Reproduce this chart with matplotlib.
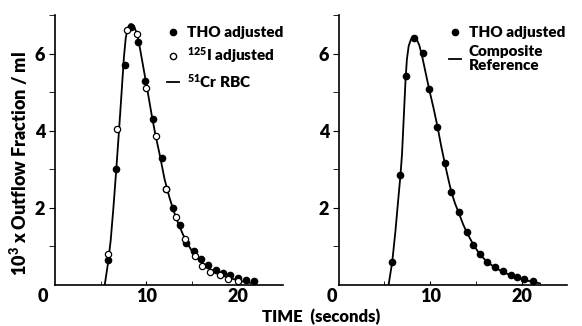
import numpy as np
import matplotlib
matplotlib.use("Agg")
import matplotlib.pyplot as plt
from matplotlib.lines import Line2D

plt.rcParams['font.family'] = ['Lato', 'DejaVu Sans']
plt.rcParams['font.weight'] = 'heavy'
plt.rcParams['axes.labelweight'] = 'heavy'
plt.rcParams['mathtext.fontset'] = 'custom'
plt.rcParams['mathtext.rm'] = 'Lato:heavy'
plt.rcParams['mathtext.default'] = 'rm'

# ---- left panel data ----
tho_l_x = [5.8, 6.7, 7.7, 8.35, 9.1, 9.9, 10.7, 11.7, 12.2, 12.9, 13.7, 14.4, 15.2,
           16.0, 16.8, 17.6, 18.4, 19.2, 20.0, 20.9, 21.8]
tho_l_y = [0.65, 3.0, 5.7, 6.7, 6.3, 5.3, 4.3, 3.3, 2.5, 2.0, 1.55, 1.1, 0.88,
           0.67, 0.52, 0.39, 0.32, 0.25, 0.19, 0.13, 0.10]
iod_x = [5.8, 6.8, 7.9, 9.0, 10.0, 11.1, 12.2, 13.3, 14.2, 15.3, 16.1, 17.0, 18.1, 19.0, 20.0]
iod_y = [0.8, 4.05, 6.6, 6.5, 5.1, 3.85, 2.5, 1.77, 1.2, 0.75, 0.5, 0.34, 0.25, 0.15, 0.1]
cr_x = [5.45, 5.8, 6.1, 6.4, 6.7, 7.0, 7.3, 7.55, 7.75, 7.95, 8.2, 8.45, 8.7, 9.0, 9.3,
        9.6, 9.9, 10.2, 10.6, 11.0, 11.5, 12.0, 12.5, 13.0, 13.5, 14.0, 14.5, 15.0, 15.5,
        16.0, 17.0, 18.0, 19.0, 20.0, 21.0, 22.0]
cr_y = [0.0, 0.55, 1.15, 2.0, 2.95, 3.95, 5.0, 5.9, 6.4, 6.65, 6.76, 6.76, 6.68, 6.5, 6.15,
        5.75, 5.35, 4.95, 4.4, 3.9, 3.35, 2.75, 2.3, 1.92, 1.6, 1.32, 1.08, 0.88, 0.72,
        0.6, 0.41, 0.28, 0.19, 0.12, 0.07, 0.03]

# ---- right panel data ----
tho_r_x = [5.83, 6.74, 7.36, 8.26, 9.17, 9.9, 10.7, 11.6, 12.3, 13.15, 13.99, 14.7, 15.4,
           16.2, 17.1, 18.0, 18.8, 19.5, 20.3, 21.2]
tho_r_y = [0.6, 2.84, 5.43, 6.4, 6.02, 5.08, 4.1, 3.16, 2.4, 1.88, 1.38, 1.04, 0.8,
           0.6, 0.46, 0.35, 0.26, 0.2, 0.15, 0.1]
ref_x = [5.45, 5.85, 6.2, 6.5, 6.75, 6.92, 7.1, 7.3, 7.45, 7.65, 7.9, 8.2, 8.5, 8.8, 9.1,
         9.5, 9.9, 10.35, 10.8, 11.2, 11.6, 12.0, 12.3, 12.7, 13.15, 13.6, 14.0, 14.7,
         15.4, 16.2, 17.1, 18.0, 19.0, 20.0, 21.0, 22.0]
ref_y = [0.0, 0.6, 1.4, 2.2, 2.85, 3.4, 4.3, 5.3, 5.85, 6.2, 6.37, 6.42, 6.38, 6.22, 5.95,
         5.5, 5.06, 4.6, 4.1, 3.6, 3.15, 2.72, 2.42, 2.12, 1.85, 1.57, 1.36, 1.05,
         0.8, 0.6, 0.45, 0.33, 0.23, 0.15, 0.09, 0.04]

fig = plt.figure(figsize=(5.82, 3.26), dpi=100)
ax1 = fig.add_axes([0.0945, 0.126, 0.392, 0.828])
ax2 = fig.add_axes([0.582, 0.126, 0.393, 0.828])

for ax in (ax1, ax2):
    ax.set_xlim(0, 25)
    ax.set_ylim(0, 7)
    ax.spines['top'].set_visible(False)
    ax.spines['right'].set_visible(False)
    ax.spines['left'].set_linewidth(1.2)
    ax.spines['bottom'].set_linewidth(1.2)
    ax.set_xticks([10, 20])
    ax.set_xticks([5, 15], minor=True)
    ax.set_yticks([2, 4, 6])
    ax.set_yticks([1, 3, 5, 7], minor=True)
    ax.tick_params(axis='x', which='both', direction='in', length=3, labelsize=13, pad=2)
    ax.tick_params(axis='y', which='both', direction='out', length=4, labelsize=13, pad=3)

ax1.text(-1.3, -0.3, '0', ha='center', va='center', fontsize=13)
ax2.text(-0.76, -0.3, '0', ha='center', va='center', fontsize=13)

ax1.plot(cr_x, cr_y, color='black', lw=1.3, solid_joinstyle='round')
ax1.plot(tho_l_x, tho_l_y, 'o', color='black', ms=4.5)
ax1.plot(iod_x, iod_y, 'o', mfc='white', mec='black', mew=0.9, ms=4.5)
h1 = [Line2D([], [], ls='none', marker='o', color='black', ms=4.5),
      Line2D([], [], ls='none', marker='o', mfc='white', mec='black', ms=4.5),
      Line2D([], [], color='black', lw=1.3)]
ax1.legend(h1, ['THO adjusted', r'$^{125}$I adjusted', r'$^{51}$Cr RBC'],
           loc='upper right', bbox_to_anchor=(1.06, 1.01), frameon=False,
           handlelength=0.8, handletextpad=0.5, labelspacing=0.42,
           prop={'size': 11, 'weight': 'heavy'})
ax1.set_ylabel(r'10$^3$ x Outflow Fraction / ml', fontsize=13, fontweight='heavy')
ax1.yaxis.set_label_coords(-0.11, 0.45)

ax2.plot(ref_x, ref_y, color='black', lw=1.3, solid_joinstyle='round')
ax2.plot(tho_r_x, tho_r_y, 'o', color='black', ms=4.5)
h2 = [Line2D([], [], ls='none', marker='o', color='black', ms=4.5),
      Line2D([], [], color='black', lw=1.3)]
leg2 = ax2.legend(h2, ['THO adjusted', 'Composite\nReference'],
                  loc='upper right', bbox_to_anchor=(1.05, 1.01), frameon=False,
                  handlelength=0.8, handletextpad=0.5, labelspacing=0.4,
                  prop={'size': 11, 'weight': 'heavy'})
for t in leg2.get_texts():
    t.set_linespacing(1.1)

fig.text(0.552, 0.027, 'TIME  (seconds)', ha='center', va='center', fontsize=12)

fig.savefig('out.png', dpi=100)
